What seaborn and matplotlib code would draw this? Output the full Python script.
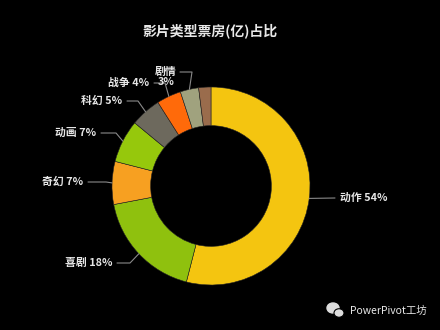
import numpy as np
import matplotlib
matplotlib.use("Agg")
import matplotlib.pyplot as plt
from matplotlib.patches import Ellipse
import seaborn as sns

# ---- data ----
genres = ['动作', '喜剧', '奇幻', '动画', '科幻', '战争', '剧情', '其他']
shares = [54, 18, 7, 7, 5, 4, 3, 2]
labels = ['动作 54%', '喜剧 18%', '奇幻 7%', '动画 7%', '科幻 5%', '战争 4%', '剧情\n3%', '']
colors = ['#F4C510', '#8FC10E', '#F7A021', '#96C80C', '#6D695D',
          '#FF6A0A', '#A0A27E', '#9A6C4C']
title = '影片类型票房(亿)占比'

sns.set_style('dark')
plt.rcParams['font.family'] = ['Noto Sans CJK SC', 'DejaVu Sans']

W, H = 440, 330
fig = plt.figure(figsize=(4.4, 3.3), dpi=100, facecolor='black')
cx, cy, R = 211, 186, 99
ax = fig.add_axes([(cx - R) / W, (H - cy - R) / H, 2 * R / W, 2 * R / H])
ax.set_facecolor('black')

wedges, _ = ax.pie(shares, colors=colors, startangle=90, counterclock=False,
                   radius=1.0, wedgeprops=dict(width=0.39, edgecolor='#222222', linewidth=0.4))
ax.set_xlim(-1, 1)
ax.set_ylim(-1, 1)
ax.axis('off')

def d(px, py):
    return ((px - cx) / R, (cy - py) / R)

# label layout (pixels): text anchor x, y, alignment, elbow point
layout = [
    (340, 198, 'left', (335, 198)),
    (112, 263, 'right', (130, 263)),
    (83, 182, 'right', (106, 182)),
    (96, 133, 'right', (116, 133)),
    (122, 101, 'right', (138, 101)),
    (149, 83, 'right', (165, 83)),
    (166, 77, 'center', (192, 72)),
]
line_color = '#8a8a8a'
for w, lab, (tx, ty, ha, elbow) in zip(wedges, labels, layout):
    ang = np.deg2rad((w.theta1 + w.theta2) / 2)
    sx, sy = np.cos(ang), np.sin(ang)
    ex, ey = d(*elbow)
    if ha == 'center':
        hx, hy = d(180, 72)
    else:
        hx, hy = d(tx + (5 if ha == 'right' else -5), ty)
    ax.plot([sx, ex, hx], [sy, ey, hy], color=line_color, lw=0.8, clip_on=False)
    lx, ly = d(tx, ty)
    ax.text(lx, ly, lab, ha=ha, va='center', fontsize=7.8, color='#E6E6E6',
            fontweight='bold', linespacing=1.1, clip_on=False)

fig.text(210 / W, 1 - 31 / H, title, ha='center', va='center', fontsize=10,
         fontweight='bold', color='#E8E8E8')

# watermark
iax = fig.add_axes([0, 0, 1, 1], facecolor='none')
iax.set_xlim(0, W)
iax.set_ylim(H, 0)
iax.axis('off')
iax.add_patch(Ellipse((333, 308), 12, 10, color='#DDDDDD'))
iax.add_patch(Ellipse((339, 313), 10, 8.5, color='#DDDDDD', ec='black', lw=0.8))
fig.text(350 / W, 1 - 311 / H, 'PowerPivot工坊', ha='left', va='center',
         fontsize=7.5, color='#E8E8E8')

fig.savefig('out.png', dpi=100, facecolor='black')
